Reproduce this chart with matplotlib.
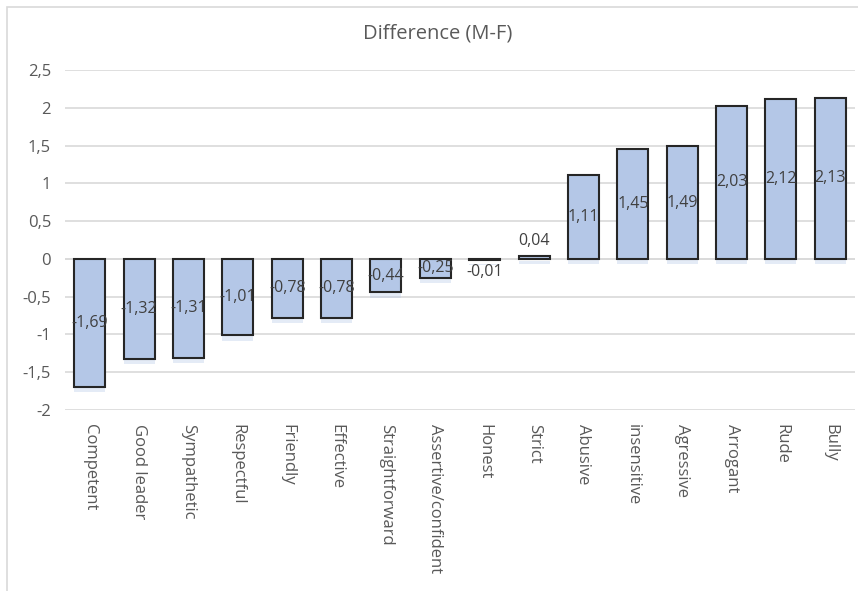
import matplotlib.pyplot as plt
import matplotlib.patheffects as pe
from matplotlib.patches import Rectangle

plt.rcParams['font.family'] = ['Open Sans', 'DejaVu Sans']

categories = ['Competent', 'Good leader', 'Sympathetic', 'Respectful', 'Friendly',
              'Effective', 'Straightforward', 'Assertive/confident', 'Honest', 'Strict',
              'Abusive', 'insensitive', 'Agressive', 'Arrogant', 'Rude', 'Bully']
diff = [-1.69, -1.32, -1.31, -1.01, -0.78, -0.78, -0.44, -0.25, -0.01, 0.04,
        1.11, 1.45, 1.49, 2.03, 2.12, 2.13]
yticks = [-2, -1.5, -1, -0.5, 0, 0.5, 1, 1.5, 2, 2.5]

fig = plt.figure(figsize=(8.58, 5.91), dpi=100)
ax = fig.add_axes([65/858, 1 - 410/591, (855 - 65)/858, (410 - 70)/591])

# cadre du graphique (coupé à droite et en bas)
fig.patches.append(Rectangle((7/858, -0.05), 1.1, 1 - 7/591 + 0.05, transform=fig.transFigure,
                             fill=False, edgecolor='#d9d9d9', linewidth=1.2))

x = range(len(categories))
shadow = [pe.SimplePatchShadow(offset=(0, -4), shadow_rgbFace='#b4c7e7', alpha=0.35), pe.Normal()]
bars = ax.bar(x, diff, width=0.63, color='#b4c7e7', edgecolor='#262626', linewidth=1.5, zorder=3)
for b in bars:
    b.set_path_effects(shadow)

# étiquettes de valeurs
for i, v in enumerate(diff):
    txt = '{:.2f}'.format(v).replace('.', ',')
    if abs(v) < 0.1:
        y = v + 0.2 if v > 0 else v - 0.17
    else:
        y = v / 2
    ax.text(i, y, txt, ha='center', va='center', fontsize=11.5, color='#404040', zorder=4)

ax.set_xlim(-0.5, len(categories) - 0.5)
ax.set_ylim(-2, 2.5)
ax.set_yticks(yticks)
ax.set_yticklabels([('{:g}'.format(t)).replace('.', ',') for t in yticks], fontsize=12, color='#595959')
ax.set_xticks(list(x))
ax.set_xticklabels(categories, rotation=-90, fontsize=12, color='#595959', va='top')
ax.tick_params(length=0, pad=10)
ax.tick_params(axis='x', pad=10)
ax.grid(axis='y', color='#d9d9d9', linewidth=1.2, zorder=0)
for s in ax.spines.values():
    s.set_visible(False)
ax.axhline(0, color='#d9d9d9', linewidth=1.2, zorder=1)

fig.text(438/858, 1 - 33/591, 'Difference (M-F)', ha='center', va='center', fontsize=14.5, color='#595959')

plt.savefig('out.png', dpi=100)
